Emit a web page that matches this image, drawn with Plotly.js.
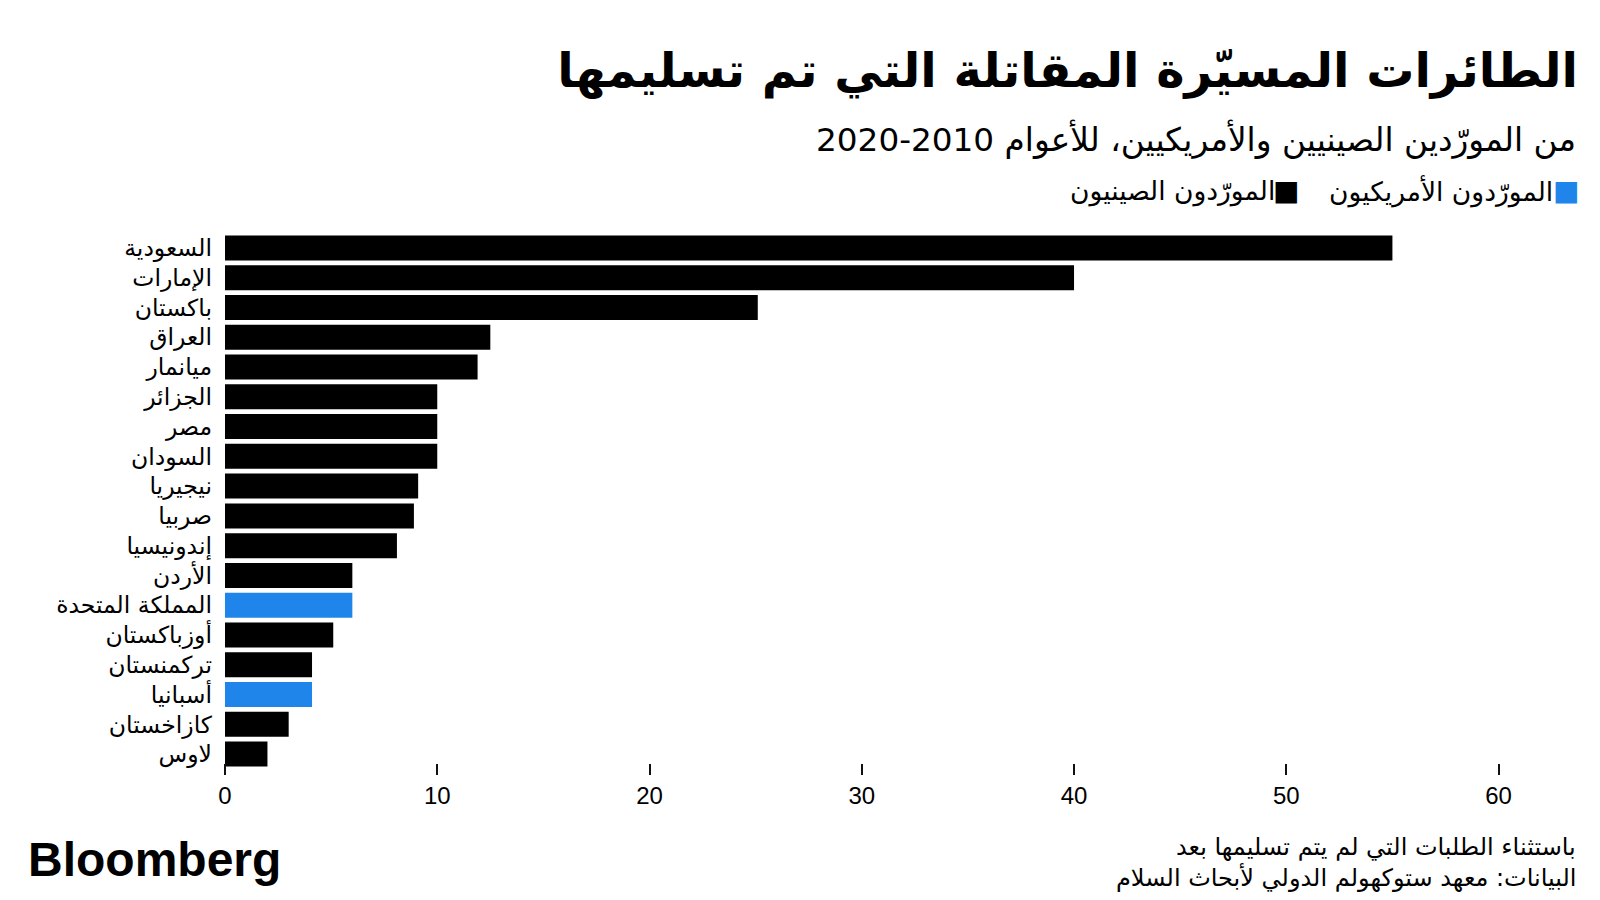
<!DOCTYPE html>
<html>
<head>
<meta charset="utf-8">
<script src="https://cdn.plot.ly/plotly-3.0.1.min.js"></script>
<style>html,body{margin:0;padding:0;background:#fff;}#chart{width:1600px;height:900px;}</style>
</head>
<body>
<div id="chart"></div>
<script>
// ---- data ----
const countries = ['السعودية','الإمارات','باكستان','العراق','ميانمار','الجزائر','مصر','السودان','نيجيريا','صربيا','إندونيسيا','الأردن','المملكة المتحدة','أوزباكستان','تركمنستان','أسبانيا','كازاخستان','لاوس'];
const deliveries = [55, 40, 25.1, 12.5, 11.9, 10, 10, 10, 9.1, 8.9, 8.1, 6, 6, 5.1, 4.1, 4.1, 3, 2];
const supplier = ['cn','cn','cn','cn','cn','cn','cn','cn','cn','cn','cn','cn','us','cn','cn','us','cn','cn'];
const xTicks = [0, 10, 20, 30, 40, 50, 60];
const seriesNames = {cn: 'المورّدون الصينيون', us: 'المورّدون الأمريكيون'};
const seriesColors = {cn: '#000000', us: '#1f85ea'};

const titleText = 'الطائرات المسيّرة المقاتلة التي تم تسليمها';
const subtitleText = 'من المورّدين الصينيين والأمريكيين، للأعوام 2010-2020';
const noteText = 'باستثناء الطلبات التي لم يتم تسليمها بعد';
const sourceText = 'البيانات: معهد ستوكهولم الدولي لأبحاث السلام';

// ---- layout geometry (pixels) ----
const W = 1600, H = 900;
const M = {l: 225, r: 59, t: 233, b: 131};
const plotW = W - M.l - M.r, plotH = H - M.t - M.b;
const px = x => (x - M.l) / plotW;
const py = y => (H - M.b - y) / plotH;

function traceFor(key) {
  const ys = [], xs = [];
  countries.forEach((c, i) => { if (supplier[i] === key) { ys.push(c); xs.push(deliveries[i]); } });
  return {
    type: 'bar', orientation: 'h', x: xs, y: ys, name: seriesNames[key],
    xaxis: 'x2', yaxis: 'y',
    marker: {color: seriesColors[key], line: {width: 0}},
    showlegend: false, hoverinfo: 'x+y'
  };
}

const arFont = '"DejaVu Sans", sans-serif';
const latFont = '"Liberation Sans", Arial, sans-serif';
const xRange = [0, 62];

const layout = {
  width: W, height: H,
  paper_bgcolor: '#ffffff', plot_bgcolor: '#ffffff',
  margin: M,
  barmode: 'overlay', bargap: 0.16,
  title: {
    text: '<b>' + titleText + '</b>',
    xref: 'container', yref: 'container',
    x: 1578 / W, xanchor: 'right', y: 1 - 70 / H, yanchor: 'middle',
    font: {family: arFont, size: 48, color: '#000'}
  },
  xaxis: {
    range: xRange, showticklabels: false, ticks: '',
    showgrid: false, zeroline: false, showline: false, fixedrange: true
  },
  xaxis2: {
    overlaying: 'x', anchor: 'free', position: py(763), side: 'bottom',
    range: xRange, tickvals: xTicks, ticktext: xTicks.map(String),
    showgrid: false, zeroline: false, showline: false,
    ticks: 'outside', ticklen: 11, tickwidth: 2, tickcolor: '#111',
    tickfont: {family: latFont, size: 24, color: '#000'},
    fixedrange: true
  },
  yaxis: {
    type: 'category', categoryorder: 'array', categoryarray: countries,
    range: [17.5, -0.5], showgrid: false, zeroline: false, showline: false,
    ticks: '', ticklabelstandoff: 12,
    tickfont: {family: arFont, size: 23.5, color: '#000'},
    fixedrange: true
  },
  annotations: [
    {text: subtitleText, xref: 'paper', yref: 'paper', x: px(1578), y: py(139), xanchor: 'right', yanchor: 'middle',
     showarrow: false, font: {family: arFont, size: 32.7, color: '#000'}},
    {text: '■', xref: 'paper', yref: 'paper', x: px(1580), y: py(191), xanchor: 'right', yanchor: 'middle', borderpad: 0,
     showarrow: false, font: {family: arFont, size: 28, color: seriesColors.us}},
    {text: seriesNames.us, xref: 'paper', yref: 'paper', x: px(1554), y: py(191), xanchor: 'right', yanchor: 'middle', borderpad: 0,
     showarrow: false, font: {family: arFont, size: 26.5, color: '#000'}},
    {text: '■', xref: 'paper', yref: 'paper', x: px(1300), y: py(191), xanchor: 'right', yanchor: 'middle', borderpad: 0,
     showarrow: false, font: {family: arFont, size: 28, color: seriesColors.cn}},
    {text: seriesNames.cn, xref: 'paper', yref: 'paper', x: px(1276), y: py(191), xanchor: 'right', yanchor: 'middle', borderpad: 0,
     showarrow: false, font: {family: arFont, size: 26.5, color: '#000'}},
    {text: noteText, xref: 'paper', yref: 'paper', x: px(1578), y: py(847), xanchor: 'right', yanchor: 'middle',
     showarrow: false, font: {family: arFont, size: 24, color: '#000'}},
    {text: sourceText, xref: 'paper', yref: 'paper', x: px(1578), y: py(877), xanchor: 'right', yanchor: 'middle',
     showarrow: false, font: {family: arFont, size: 24, color: '#000'}},
    {text: '<b>Bloomberg</b>', xref: 'paper', yref: 'paper', x: px(26), y: py(859), xanchor: 'left', yanchor: 'middle',
     showarrow: false, font: {family: latFont, size: 48, color: '#000'}}
  ]
};

Plotly.newPlot('chart', [traceFor('cn'), traceFor('us')], layout, {displayModeBar: false, staticPlot: true});
</script>
</body>
</html>
